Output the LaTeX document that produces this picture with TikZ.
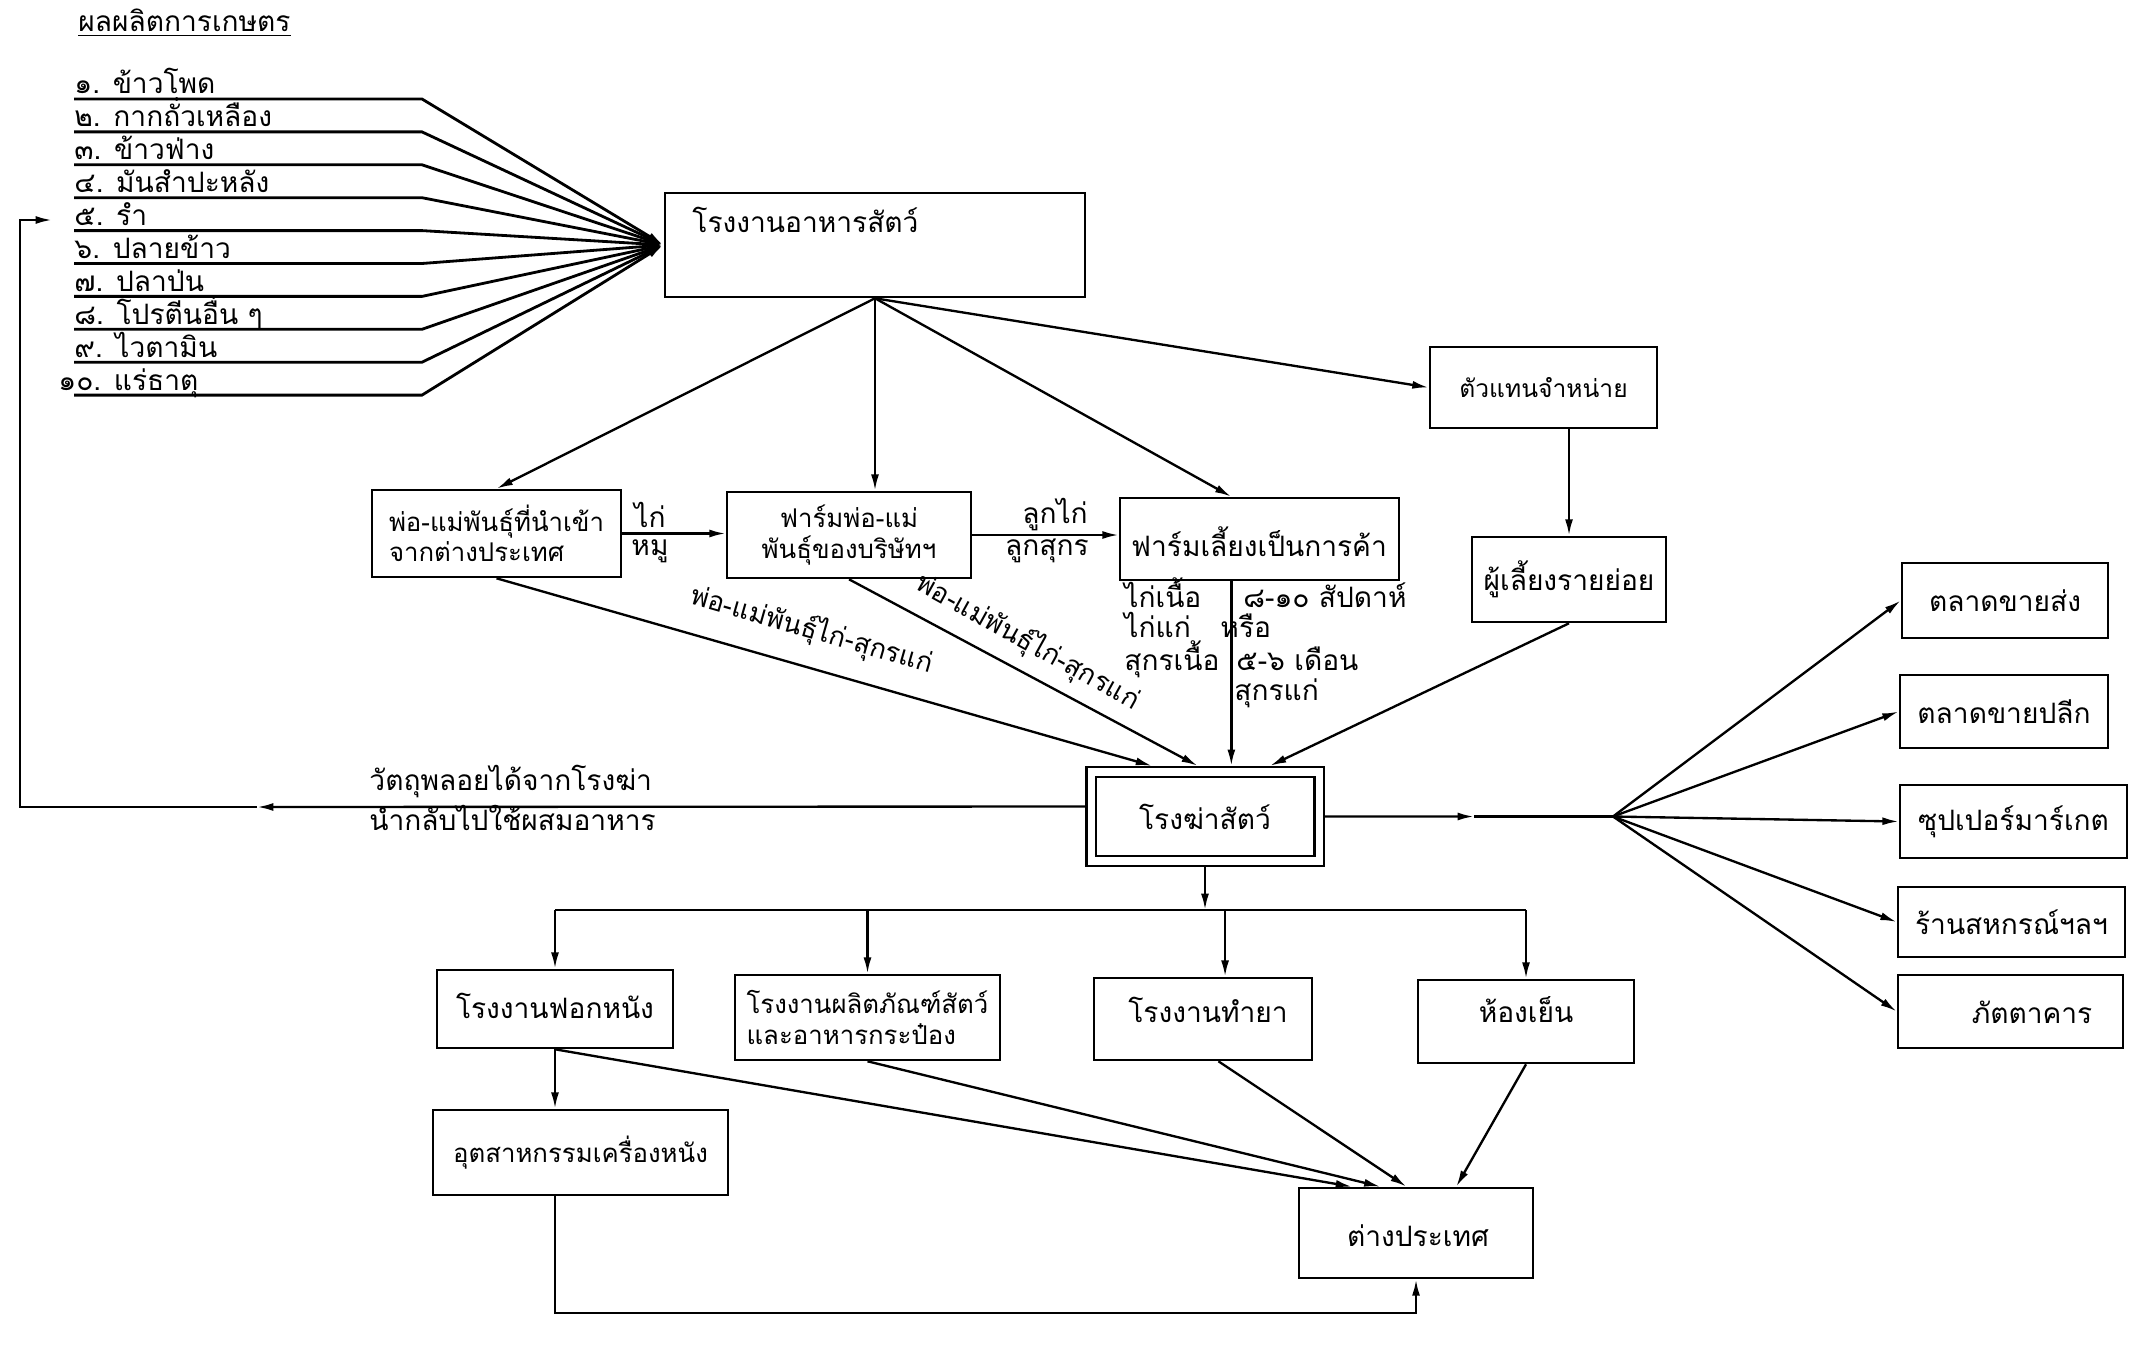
\documentclass[tikz,border=0pt]{standalone}
\usepackage{fontspec}
\setmainfont{Loma}[Script=Thai]
\usetikzlibrary{arrows.meta,fit,calc}

\begin{document}
\begin{tikzpicture}[x=0.015cm,y=-0.015cm,
    font=\fontsize{12}{14}\selectfont,
    box/.style={draw,line width=1.1pt,inner sep=0pt},
    flow/.style={line width=1pt,-{Latex[length=7pt,width=3.4pt]}},
    lbl/.style={inner sep=0pt,anchor=base west},
    two/.style={align=left,font=\fontsize{11}{13}\selectfont},
    slant/.style={inner sep=1pt,font=\fontsize{11.5}{13}\selectfont}]
\useasboundingbox (0,0) rectangle (2140,1350);

% raw materials
\node[lbl] (title) at (78,32) {\underline{ผลผลิตการเกษตร}};
\node[box,fit={(665,193) (1085,297)}] (feed) {};
\node[lbl] (feedtxt) at (692,232) {โรงงานอาหารสัตว์};
\foreach \i/\xx/\txt in {1/74/๑. ข้าวโพด,2/74/๒. กากถั่วเหลือง,3/74/๓. ข้าวฟ่าง,
    4/74/๔. มันสำปะหลัง,5/74/๕. รำ,6/74/๖. ปลายข้าว,7/74/๗. ปลาป่น,
    8/74/๘. โปรตีนอื่น ๆ,9/74/๙. ไวตามิน,10/58/๑๐. แร่ธาตุ}{
  \pgfmathsetmacro\yy{99+32.9*(\i-1)}
  \node[lbl] (item\i) at (\xx,\yy-5) {\txt};
  \coordinate (u\i) at (74,\yy);
  \draw[flow,line width=1.2pt] (u\i) -- ++(348,0) -- (feed.west);
}

% farms
\node[box,fit={(372,490) (621,577)}] (import) {};
\node[two] (importtxt) at (import.center) {พ่อ-แม่พันธุ์ที่นำเข้า\\จากต่างประเทศ};
\node[box,fit={(727,492) (971,578)}] (pfarm) {};
\node[two,align=center] (pfarmtxt) at (pfarm.center) {ฟาร์มพ่อ-แม่\\พันธุ์ของบริษัทฯ};
\node[box,fit={(1120,498) (1399,580)}] (cfarm) {};
\node (cfarmtxt) at (1259,542) {ฟาร์มเลี้ยงเป็นการค้า};
\node[box,fit={(1430,347) (1657,428)}] (agent) {};
\node[font=\fontsize{10.5}{12}\selectfont] (agenttxt) at (agent.center) {ตัวแทนจำหน่าย};
\node[box,fit={(1472,537) (1666,622)}] (small) {};
\node (smalltxt) at (small.center) {ผู้เลี้ยงรายย่อย};

\draw[flow] (feed.south) -- (import.north);
\draw[flow] (feed.south) -- (feed.south |- pfarm.north);
\coordinate (cIn) at ($(cfarm.north west)!0.4!(cfarm.north east)$);
\draw[flow] (feed.south) -- (cIn);
\draw[flow] (feed.south) -- (agent.west);
\draw[flow] (import.east) -- (import.east -| pfarm.west);
    \node (kai) at (650,515) {ไก่};
    \node (mu) at (650,551) {หมู};
\draw[flow] (pfarm.east) -- (pfarm.east -| cfarm.west);
    \node (lkai) at (1055,515) {ลูกไก่};
    \node (lsukon) at (1047,551) {ลูกสุกร};
\draw[flow] (small.north |- agent.south) -- (small.north);

% slaughter house
\node[box,double,double distance=3pt,outer sep=2.6pt,fit={(1091,772) (1319,861)}] (slaughter) {};
\node (slaughtertxt) at (slaughter.center) {โรงฆ่าสัตว์};
\coordinate (sIn1) at ($(slaughter.north west)!0.28!(slaughter.north east)$);
\coordinate (sIn2) at ($(slaughter.north west)!0.47!(slaughter.north east)$);
\coordinate (sIn4) at ($(slaughter.north west)!0.77!(slaughter.north east)$);
\coordinate (cOut) at ($(cfarm.south west)!0.4!(cfarm.south east)$);
\draw[flow] (import.south) -- (sIn1);
\draw[flow] (pfarm.south) -- (sIn2);
\draw[flow] (cOut) -- (cOut |- slaughter.north);
\draw[flow] (small.south) -- (sIn4);
    \node[slant,rotate=-16] (brd1) at (812,630) {พ่อ-แม่พันธุ์ไก่-สุกรแก่};
    \node[slant,rotate=-29] (brd2) at (1028,642) {พ่อ-แม่พันธุ์ไก่-สุกรแก่};
    \node[lbl] (age1) at (1124,607) {ไก่เนื้อ};
    \node[lbl] (age2) at (1243,607) {๘-๑๐ สัปดาห์};
    \node[lbl] (age3) at (1124,637) {ไก่แก่};
    \node[lbl] (age4) at (1220,637) {หรือ};
    \node[lbl] (age5) at (1124,670) {สุกรเนื้อ};
    \node[lbl] (age6) at (1236,670) {๕-๖ เดือน};
    \node[lbl] (age7) at (1234,700) {สุกรแก่};

% by-products back to the feed mill
\coordinate (sOut) at ($(slaughter.west)+(0,-10)$);
\coordinate (bMid) at (257,807);
\coordinate (fbCorner) at (20,807);
\coordinate (fbEnd) at (52,220);
\draw[flow] (sOut) -- (bMid);
\draw[flow] (bMid) -- (fbCorner) |- (fbEnd);
\node[lbl] (byp1) at (369,790) {วัตถุพลอยได้จากโรงฆ่า};
\node[lbl] (byp2) at (369,830) {นำกลับไปใช้ผสมอาหาร};

% markets
\node[box,fit={(1902,563) (2108,638)}] (whole) {};
\node (wholetxt) at (whole.center) {ตลาดขายส่ง};
\node[box,fit={(1900,675) (2108,748)}] (retail) {};
\node (retailtxt) at (retail.center) {ตลาดขายปลีก};
\node[box,fit={(1900,785) (2127,858)}] (superm) {};
\node (supermtxt) at (superm.center) {ซุปเปอร์มาร์เกต};
\node[box,fit={(1898,887) (2125,957)}] (coop) {};
\node (cooptxt) at (coop.center) {ร้านสหกรณ์ฯลฯ};
\node[box,fit={(1898,975) (2123,1048)}] (rest) {};
\node (resttxt) at (2032,1012) {ภัตตาคาร};
\coordinate (rMid) at (1474,816.5);
\coordinate (hub) at (1613,816.5);
\draw[flow] (slaughter.east) -- (rMid);
\draw[line width=1pt] (rMid) -- (hub);
\foreach \m in {whole,retail,superm,coop,rest}
  \draw[flow] (hub) -- (\m.west);

% processing
\node[box,fit={(437,970) (673,1048)}] (tan) {};
\node (tantxt) at (555,1006) {โรงงานฟอกหนัง};
\node[box,fit={(735,975) (1000,1060)}] (canned) {};
\node[two] (cannedtxt) at (canned.center) {โรงงานผลิตภัณฑ์สัตว์\\และอาหารกระป๋อง};
\node[box,fit={(1094,978) (1312,1060)}] (pharma) {};
\node (pharmatxt) at (1208,1010) {โรงงานทำยา};
\node[box,fit={(1418,980) (1634,1063)}] (cold) {};
\node (coldtxt) at (1526,1010) {ห้องเย็น};
\node[box,fit={(433,1110) (728,1195)}] (leather) {};
\node[font=\fontsize{11}{13}\selectfont] (leathertxt) at (leather.center) {อุตสาหกรรมเครื่องหนัง};
\node[box,fit={(1299,1188) (1533,1278)}] (abroad) {};
\node (abroadtxt) at (1418,1236) {ต่างประเทศ};

\coordinate (busL) at (555,910);
\coordinate (busR) at (1526,910);
\coordinate (pIn) at ($(pharma.north west)!0.6!(pharma.north east)$);
\draw[flow] (slaughter.south) -- (slaughter.south |- busL);
\draw[line width=1pt] (busL) -- (busR);
\draw[flow] (busL) -- (tan.north);
\draw[flow] (canned.north |- busL) -- (canned.north);
\draw[flow] (pIn |- busL) -- (pIn);
\draw[flow] (busR) -- (cold.north);
\draw[flow] (tan.south) -- (tan.south |- leather.north);

\coordinate (a1) at ($(abroad.north west)!0.23!(abroad.north east)$);
\coordinate (a2) at ($(abroad.north west)!0.35!(abroad.north east)$);
\coordinate (a3) at ($(abroad.north west)!0.46!(abroad.north east)$);
\coordinate (a4) at ($(abroad.north west)!0.67!(abroad.north east)$);
\draw[flow] (tan.south) -- (a1);
\draw[flow] (canned.south) -- (a2);
\draw[flow] ($(pharma.south west)!0.57!(pharma.south east)$) -- (a3);
\draw[flow] (cold.south) -- (a4);
\coordinate (loopY) at (0,1313);
\draw[flow] (tan.south |- leather.south) -- (tan.south |- loopY) -| (abroad.south);
\end{tikzpicture}
\end{document}
